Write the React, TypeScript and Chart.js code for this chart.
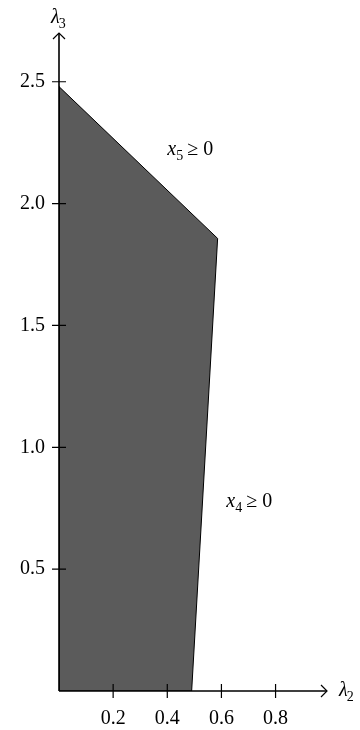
import React, { useEffect, useRef } from "react";
import { Chart, registerables } from "chart.js";

Chart.register(...registerables);

// Region vertices (λ2, λ3)
const regionL2 = [0, 0.49, 0.586, 0, 0];
const regionL3 = [0, 0, 1.857, 2.48, 0];

const xTicks = [0.2, 0.4, 0.6, 0.8];
const yTicks = [0.5, 1.0, 1.5, 2.0, 2.5];
const xMax = 0.99;
const yMax = 2.7;

const constraintLabels = [
  { sub: "5", x: 0.4, y: 2.2 },
  { sub: "4", x: 0.618, y: 0.755 },
];

const FONT = '"Liberation Serif", "DejaVu Serif", serif';

const overlay = {
  id: "overlay",
  beforeDatasetsDraw(chart: any) {
    const meta = chart.getDatasetMeta(0);
    const ctx = chart.ctx;
    ctx.save();
    ctx.beginPath();
    meta.data.forEach((p: any, i: number) => {
      if (i === 0) ctx.moveTo(p.x, p.y);
      else ctx.lineTo(p.x, p.y);
    });
    ctx.closePath();
    ctx.fillStyle = "#5b5b5b";
    ctx.fill();
    ctx.restore();
  },
  afterDatasetsDraw(chart: any) {
    const ctx = chart.ctx;
    const xs = chart.scales.x;
    const ys = chart.scales.y;
    const x0 = xs.getPixelForValue(0);
    const y0 = ys.getPixelForValue(0);
    const xEnd = xs.getPixelForValue(xMax);
    const yEnd = ys.getPixelForValue(yMax);
    ctx.save();
    ctx.strokeStyle = "#000";
    ctx.lineWidth = 1.6;
    ctx.lineCap = "butt";
    // axes
    ctx.beginPath();
    ctx.moveTo(x0, y0);
    ctx.lineTo(xEnd, y0);
    ctx.moveTo(x0, y0);
    ctx.lineTo(x0, yEnd);
    ctx.stroke();
    // ticks
    ctx.lineWidth = 1.2;
    ctx.beginPath();
    xTicks.forEach((v) => {
      const px = xs.getPixelForValue(v);
      ctx.moveTo(px, y0 - 7);
      ctx.lineTo(px, y0 + 7);
    });
    yTicks.forEach((v) => {
      const py = ys.getPixelForValue(v);
      ctx.moveTo(x0 - 7, py);
      ctx.lineTo(x0 + 7, py);
    });
    ctx.stroke();
    // arrows
    ctx.lineWidth = 1.2;
    ctx.beginPath();
    ctx.moveTo(xEnd - 6, y0 - 6);
    ctx.lineTo(xEnd, y0);
    ctx.lineTo(xEnd - 6, y0 + 6);
    ctx.moveTo(x0 - 6, yEnd + 6);
    ctx.lineTo(x0, yEnd);
    ctx.lineTo(x0 + 6, yEnd + 6);
    ctx.stroke();

    ctx.fillStyle = "#000";
    ctx.textBaseline = "alphabetic";
    ctx.textAlign = "left";
    // axis titles
    const drawLambda = (x: number, y: number, sub: string) => {
      ctx.font = "italic 20px " + FONT;
      ctx.fillText("λ", x, y);
      const w = ctx.measureText("λ").width;
      ctx.font = "14px " + FONT;
      ctx.fillText(sub, x + w - 1, y + 5);
    };
    drawLambda(x0 - 8, yEnd - 10, "3");
    drawLambda(xEnd + 12, y0 + 5, "2");

    // constraint labels
    constraintLabels.forEach((l) => {
      const px = xs.getPixelForValue(l.x);
      const py = ys.getPixelForValue(l.y);
      ctx.font = "italic 20px " + FONT;
      ctx.fillText("x", px, py);
      let w = ctx.measureText("x").width;
      ctx.font = "14px " + FONT;
      ctx.fillText(l.sub, px + w, py + 5);
      w += ctx.measureText(l.sub).width;
      ctx.font = "20px " + FONT;
      ctx.fillText("≥ 0", px + w + 4, py);
    });
    ctx.restore();
  },
};

export default function App() {
  const ref = useRef<HTMLCanvasElement>(null);
  useEffect(() => {
    document.body.style.margin = "0";
    const data = regionL2.map((x, i) => ({ x, y: regionL3[i] }));
    const chart = new Chart(ref.current!, {
      type: "scatter",
      data: {
        datasets: [
          {
            data,
            showLine: true,
            borderColor: "#000",
            borderWidth: 1,
            pointRadius: 0,
            fill: false,
          },
        ],
      },
      options: {
        animation: false,
        responsive: false,
        maintainAspectRatio: false,
        layout: { padding: { left: 0, right: 33, top: 33, bottom: 0 } },
        plugins: { legend: { display: false }, tooltip: { enabled: false } },
        scales: {
          x: {
            type: "linear",
            min: 0,
            max: xMax,
            grid: { display: false },
            border: { display: false },
            afterBuildTicks: (s: any) => {
              s.ticks = xTicks.map((v) => ({ value: v }));
            },
            afterFit: (s: any) => {
              s.height = 39;
            },
            ticks: {
              color: "#000",
              padding: 8,
              maxRotation: 0,
              autoSkip: false,
              font: { family: FONT, size: 20 },
              callback: (v: any) => Number(v).toFixed(1),
            },
          },
          y: {
            type: "linear",
            min: 0,
            max: yMax,
            grid: { display: false },
            border: { display: false },
            afterBuildTicks: (s: any) => {
              s.ticks = yTicks.map((v) => ({ value: v }));
            },
            afterFit: (s: any) => {
              s.width = 59;
            },
            ticks: {
              color: "#000",
              padding: 6,
              autoSkip: false,
              font: { family: FONT, size: 20 },
              callback: (v: any) => Number(v).toFixed(1),
            },
          },
        },
      },
      plugins: [overlay],
    });
    return () => chart.destroy();
  }, []);
  return (
    <div style={{ width: 360, height: 730 }}>
      <canvas ref={ref} width={360} height={730} style={{ display: "block" }} />
    </div>
  );
}
